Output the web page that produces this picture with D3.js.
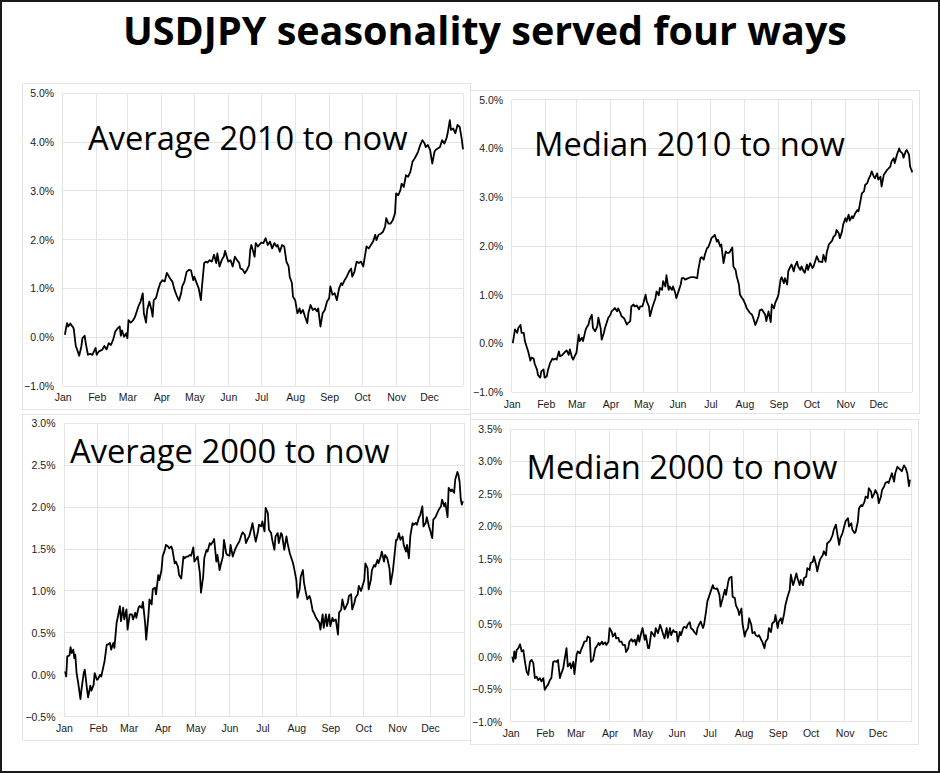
<!DOCTYPE html>
<html lang="en">
<head>
<meta charset="UTF-8">
<title>USDJPY seasonality served four ways</title>
<script src="https://d3js.org/d3.v7.min.js"></script>
<style>
  body { margin: 0; background: #fff; }
  svg { display: block; }
  .tick text { font-family: "Liberation Sans", Arial, sans-serif; font-size: 10.5px; fill: #1a1a1a; }
  .grid line { stroke: #e4e4e4; stroke-width: 1; shape-rendering: crispEdges; }
</style>
</head>
<body>
<script>
const chartTitle = "USDJPY seasonality served four ways";

// y tick values (percent)
const ticks2010 = [-1, 0, 1, 2, 3, 4, 5];
const ticksAvg2000 = [-0.5, 0, 0.5, 1, 1.5, 2, 2.5, 3];
const ticksMed2000 = [-1, -0.5, 0, 0.5, 1, 1.5, 2, 2.5, 3, 3.5];

// [day of year, cumulative % change]
const avg2010 = [[2,0.05],[3,0.18],[4,0.29],[5,0.22],[7,0.28],[8,0.24],[9,0.22],[10,0.18],[12,-0.19],[13,-0.24],[15,-0.38],[17,-0.19],[18,-0.02],[20,0.03],[21,-0.12],[23,-0.36],[25,-0.34],[27,-0.36],[30,-0.22],[31,-0.36],[33,-0.29],[36,-0.26],[38,-0.18],[40,-0.25],[42,-0.12],[44,-0.16],[46,-0.05],[48,0.12],[50,0.18],[52,0.22],[53,0.03],[54,0.14],[56,0.01],[58,0.08],[59,-0.02],[60,0.35],[62,0.30],[64,0.34],[66,0.42],[68,0.56],[69,0.63],[71,0.73],[73,0.90],[74,0.49],[76,0.30],[77,0.56],[79,0.73],[81,0.56],[82,0.42],[83,0.76],[85,0.80],[87,0.97],[89,1.11],[91,1.17],[93,1.14],[95,1.32],[97,1.24],[99,1.17],[100,1.14],[102,0.97],[104,0.85],[106,0.75],[108,0.90],[109,1.04],[111,1.14],[113,1.34],[115,1.38],[117,1.37],[119,1.17],[120,1.24],[122,1.12],[124,1.00],[126,0.76],[127,1.04],[129,1.52],[131,1.55],[132,1.53],[134,1.58],[136,1.55],[138,1.69],[140,1.52],[141,1.72],[143,1.45],[145,1.58],[147,1.66],[148,1.77],[150,1.62],[151,1.55],[153,1.58],[155,1.45],[157,1.65],[159,1.58],[161,1.52],[162,1.41],[164,1.39],[166,1.31],[168,1.38],[170,1.48],[171,1.79],[172,1.89],[175,1.65],[176,1.93],[178,1.86],[181,1.94],[183,1.93],[185,2.03],[187,1.89],[189,1.96],[191,1.82],[193,1.93],[195,1.86],[196,1.89],[198,1.75],[200,1.89],[202,1.86],[204,1.55],[206,1.45],[207,1.24],[209,1.11],[210,0.83],[212,0.76],[214,0.49],[216,0.59],[217,0.49],[219,0.56],[221,0.42],[223,0.29],[224,0.49],[226,0.66],[228,0.56],[230,0.59],[232,0.53],[233,0.59],[235,0.22],[237,0.49],[239,0.56],[241,0.73],[243,0.80],[244,1.04],[246,0.87],[248,0.90],[250,0.76],[252,1.00],[254,1.11],[255,1.07],[257,1.17],[259,1.24],[261,1.34],[263,1.41],[264,1.24],[266,1.34],[268,1.55],[270,1.52],[272,1.55],[274,1.45],[275,1.58],[277,1.86],[279,1.82],[281,1.89],[283,1.96],[285,2.10],[286,1.99],[288,2.10],[290,2.12],[292,2.16],[294,2.27],[295,2.44],[297,2.33],[299,2.33],[301,2.40],[303,2.54],[304,2.95],[306,2.91],[308,3.02],[309,3.15],[311,3.08],[313,3.32],[315,3.29],[317,3.39],[319,3.60],[320,3.63],[322,3.71],[324,3.80],[326,3.94],[328,4.04],[330,3.97],[331,3.90],[333,3.94],[335,3.84],[337,3.56],[339,3.80],[340,3.84],[342,3.87],[344,3.90],[346,4.04],[348,3.97],[350,4.08],[351,4.18],[353,4.45],[354,4.25],[356,4.28],[358,4.18],[360,4.35],[362,4.31],[364,4.04],[365,3.85]];

const med2010 = [[1,0.01],[3,0.29],[5,0.22],[6,0.32],[8,0.38],[9,0.22],[11,0.22],[12,0.05],[14,-0.09],[15,-0.16],[17,-0.35],[18,-0.29],[20,-0.31],[21,-0.42],[23,-0.53],[24,-0.65],[26,-0.70],[27,-0.57],[29,-0.53],[30,-0.70],[32,-0.67],[33,-0.55],[35,-0.40],[37,-0.31],[38,-0.33],[40,-0.31],[41,-0.33],[43,-0.16],[44,-0.26],[46,-0.24],[47,-0.21],[49,-0.16],[50,-0.14],[52,-0.23],[53,-0.12],[55,-0.29],[56,-0.33],[58,-0.23],[59,-0.19],[61,0.18],[62,0.05],[64,0.12],[65,0.05],[67,0.25],[68,0.32],[70,0.39],[71,0.49],[73,0.59],[74,0.32],[76,0.25],[78,0.35],[79,0.53],[81,0.32],[82,0.08],[84,0.22],[85,0.32],[87,0.46],[88,0.53],[90,0.59],[91,0.66],[93,0.70],[94,0.73],[96,0.66],[97,0.72],[99,0.63],[100,0.56],[102,0.53],[103,0.49],[105,0.39],[106,0.42],[108,0.46],[109,0.76],[111,0.80],[112,0.76],[114,0.78],[116,0.70],[117,0.76],[119,0.76],[120,0.83],[122,1.00],[123,0.87],[125,0.76],[126,0.56],[128,0.73],[129,0.80],[131,0.93],[132,1.07],[134,0.99],[135,1.14],[137,1.10],[138,1.28],[140,1.17],[141,1.40],[143,1.10],[144,1.17],[146,1.10],[147,1.17],[149,1.04],[150,0.93],[152,1.07],[154,1.21],[155,1.34],[157,1.34],[158,1.31],[160,1.33],[161,1.34],[163,1.36],[166,1.36],[169,1.34],[170,1.51],[172,1.75],[173,1.77],[175,1.72],[176,1.82],[178,1.96],[179,1.97],[181,2.09],[182,2.16],[184,2.20],[185,2.23],[187,2.09],[188,2.13],[190,1.99],[191,2.03],[193,1.65],[195,1.89],[196,1.86],[198,1.86],[199,1.89],[201,1.97],[202,1.58],[204,1.51],[205,1.38],[207,1.21],[208,1.00],[210,0.93],[211,0.90],[213,0.80],[214,0.73],[216,0.66],[217,0.63],[219,0.59],[220,0.53],[222,0.38],[223,0.44],[225,0.56],[226,0.68],[228,0.70],[229,0.66],[231,0.59],[232,0.46],[234,0.66],[236,0.44],[237,0.80],[239,0.72],[240,0.83],[242,0.93],[243,1.00],[245,1.31],[246,1.36],[248,1.24],[249,1.34],[251,1.21],[252,1.48],[254,1.58],[255,1.62],[257,1.48],[258,1.58],[260,1.68],[261,1.58],[263,1.51],[264,1.58],[266,1.48],[267,1.45],[269,1.62],[270,1.51],[272,1.65],[274,1.55],[275,1.58],[277,1.72],[278,1.79],[280,1.68],[281,1.68],[283,1.67],[284,1.82],[286,1.68],[287,1.86],[289,2.03],[290,2.06],[292,2.11],[293,2.18],[295,2.23],[296,2.33],[298,2.26],[299,2.16],[301,2.30],[302,2.44],[304,2.57],[305,2.50],[307,2.64],[308,2.52],[310,2.61],[311,2.57],[313,2.67],[315,2.74],[316,2.71],[318,2.95],[319,3.08],[321,3.12],[322,3.25],[324,3.29],[325,3.36],[327,3.46],[328,3.53],[330,3.42],[331,3.39],[333,3.49],[334,3.36],[336,3.42],[337,3.22],[339,3.46],[340,3.49],[342,3.56],[343,3.58],[345,3.63],[346,3.73],[348,3.80],[349,3.70],[351,3.87],[353,4.00],[354,3.94],[356,3.90],[357,3.81],[359,3.94],[360,3.97],[362,3.87],[363,3.63],[365,3.51]];

const avg2000 = [[1,0.04],[2,-0.02],[3,0.22],[5,0.23],[6,0.33],[7,0.26],[8.5,0.30],[9.4,0.20],[10.3,0.24],[11.5,0.02],[13,-0.10],[15,-0.29],[16,-0.17],[18,0.02],[19,0.06],[21,-0.17],[22,-0.27],[24,-0.13],[25,-0.19],[27,-0.12],[28,0.02],[30,-0.06],[31,-0.05],[33,0.00],[34,-0.02],[36,0.10],[37,0.16],[39,0.36],[40,0.36],[42,0.38],[43,0.30],[45,0.38],[46,0.32],[48,0.62],[49,0.68],[51,0.82],[52,0.64],[54,0.80],[55,0.66],[57,0.78],[58,0.54],[60,0.72],[62,0.72],[63,0.66],[65,0.74],[66,0.68],[68,0.80],[69,0.82],[71,0.80],[72,0.87],[74,0.62],[75,0.42],[77,0.70],[78,0.90],[80,0.84],[81,1.02],[83,1.04],[84,0.96],[86,1.19],[87,1.13],[89,1.25],[90,1.41],[92,1.49],[93,1.55],[95,1.53],[96,1.51],[98,1.53],[99,1.49],[101,1.33],[102,1.35],[104,1.29],[105,1.19],[107,1.15],[109,1.41],[110,1.39],[112,1.41],[113,1.41],[115,1.43],[116,1.42],[118,1.52],[119,1.35],[121,1.39],[122,1.41],[124,1.21],[125,0.98],[127,1.17],[128,1.39],[130,1.49],[131,1.47],[133,1.57],[134,1.55],[136,1.59],[137,1.62],[139,1.35],[140,1.43],[142,1.25],[143,1.31],[145,1.41],[146,1.61],[148,1.45],[149,1.43],[151,1.42],[152,1.55],[154,1.41],[156,1.49],[157,1.52],[159,1.57],[160,1.59],[162,1.67],[163,1.70],[165,1.67],[166,1.57],[168,1.63],[169,1.65],[171,1.75],[172,1.81],[174,1.65],[175,1.59],[177,1.71],[178,1.79],[180,1.77],[181,1.83],[183,1.71],[184,1.99],[186,1.93],[187,1.73],[189,1.69],[190,1.61],[192,1.49],[193,1.65],[195,1.69],[196,1.57],[198,1.69],[199,1.67],[201,1.49],[203,1.65],[204,1.57],[206,1.45],[207,1.41],[209,1.33],[210,1.27],[212,1.13],[213,0.92],[215,1.02],[216,1.17],[218,1.25],[219,1.10],[221,0.96],[222,0.90],[224,0.94],[225,0.90],[227,0.76],[228,0.74],[230,0.68],[231,0.66],[233,0.62],[234,0.54],[236,0.72],[237,0.56],[239,0.72],[240,0.58],[242,0.72],[243,0.58],[245,0.68],[246,0.64],[248,0.66],[250,0.48],[251,0.74],[253,0.78],[254,0.90],[256,0.78],[257,0.80],[259,0.86],[260,0.94],[262,0.96],[263,0.78],[265,0.86],[266,0.92],[268,0.96],[269,1.06],[271,1.00],[272,1.04],[274,1.13],[275,1.33],[277,1.27],[278,1.02],[280,1.13],[281,1.25],[283,1.31],[284,1.29],[286,1.37],[287,1.33],[289,1.41],[290,1.47],[292,1.35],[293,1.43],[295,1.39],[297,1.27],[298,1.08],[300,1.23],[301,1.35],[303,1.61],[304,1.61],[305.6,1.69],[307,1.61],[309,1.65],[310,1.55],[312,1.47],[313,1.55],[314.7,1.39],[316,1.65],[318,1.81],[319,1.79],[321,1.81],[322,1.79],[324,1.88],[325,1.90],[327,2.01],[328,1.77],[330,1.81],[331,1.88],[333,1.77],[334,1.73],[336,1.63],[337,1.85],[339,1.88],[340,1.91],[342,1.97],[344,2.01],[345,2.09],[347,2.01],[348,2.05],[350,1.88],[351,2.23],[353,2.19],[354,2.21],[356,2.17],[357,2.33],[359,2.42],[360,2.38],[361,2.30],[362,2.10],[363,2.03],[364,2.07]];

const med2000 = [[1.5,0.00],[2.4,-0.08],[3.3,0.08],[4.5,-0.03],[5.4,0.10],[7,0.13],[8.5,0.19],[10,0.08],[11.5,0.10],[13,-0.08],[14.5,-0.23],[16,-0.28],[17.5,-0.08],[19,-0.05],[20.6,-0.10],[22,-0.33],[23.6,-0.31],[25,-0.36],[26.6,-0.33],[28,-0.38],[29.7,-0.33],[31,-0.51],[32.7,-0.46],[34,-0.43],[35.7,-0.36],[37,-0.33],[38.7,-0.08],[40,-0.07],[41.8,-0.08],[43,-0.05],[44.8,-0.33],[46,-0.26],[47.8,-0.18],[49,-0.05],[50.8,0.13],[52,-0.15],[54,-0.10],[55,-0.18],[57,-0.08],[58,-0.27],[60,0.03],[61,0.08],[63,0.05],[64,0.10],[66,0.18],[67,0.23],[69,0.24],[70,0.31],[72,0.29],[73,-0.08],[75,-0.05],[77,0.13],[78,0.15],[80,0.21],[81,0.18],[83,0.23],[84,0.19],[86,0.22],[87,0.18],[89,0.23],[90,0.44],[92,0.38],[93,0.31],[95,0.36],[96,0.28],[98,0.29],[99,0.23],[101,0.23],[102,0.18],[104,0.18],[105,0.07],[107,0.13],[108,0.23],[110,0.27],[111,0.23],[113,0.26],[114,0.18],[116,0.33],[117,0.23],[119,0.38],[120,0.44],[122,0.26],[123,0.33],[125,0.13],[126,0.13],[128,0.38],[129,0.36],[131,0.31],[132,0.44],[134,0.36],[136,0.49],[137,0.44],[139,0.33],[140,0.28],[142,0.44],[143,0.29],[145,0.44],[146,0.33],[148,0.41],[149,0.38],[151,0.38],[152,0.23],[154,0.38],[155,0.33],[157,0.44],[158,0.46],[160,0.44],[161,0.49],[163,0.53],[164,0.44],[166,0.41],[167,0.38],[169,0.34],[170,0.44],[172,0.51],[173,0.54],[175,0.44],[176,0.49],[178,0.72],[179,0.85],[181,0.95],[182,1.00],[184,1.10],[185,1.05],[187,1.04],[188,1.05],[190,0.95],[191,0.77],[193,0.90],[195,1.03],[196,0.95],[198,1.15],[199,1.21],[201,1.23],[202,0.92],[204,0.90],[205,0.79],[207,0.72],[208,0.64],[210,0.74],[211,0.51],[213,0.31],[214,0.38],[216,0.44],[217,0.59],[219,0.49],[220,0.36],[222,0.38],[223,0.33],[225,0.31],[226,0.33],[228,0.26],[229,0.23],[231,0.13],[232,0.23],[234,0.28],[235,0.44],[237,0.38],[238,0.51],[240,0.54],[241,0.64],[243,0.44],[244,0.54],[246,0.59],[247,0.51],[249,0.67],[250,0.79],[252,0.92],[254,1.03],[255,1.26],[257,1.10],[258,1.15],[260,1.28],[261,1.21],[263,1.10],[264,1.18],[266,1.10],[267,1.21],[269,1.23],[270,1.36],[272,1.33],[273,1.44],[275,1.46],[276,1.54],[278,1.41],[279,1.31],[281,1.46],[282,1.51],[284,1.56],[285,1.62],[287,1.56],[288,1.74],[290,1.77],[291,1.79],[293,1.87],[294,1.95],[296,2.03],[297,1.92],[299,1.72],[300,1.82],[302,1.90],[304,2.03],[305,2.09],[307,2.13],[308,2.00],[310,2.05],[311,1.95],[313,1.90],[314,1.92],[316,2.08],[317,2.28],[319,2.33],[320,2.31],[322,2.38],[323,2.46],[325,2.44],[326,2.59],[328,2.54],[329,2.44],[331,2.51],[332,2.56],[334,2.49],[335,2.36],[337,2.46],[338,2.56],[340,2.62],[341,2.67],[343,2.69],[344,2.67],[346,2.77],[347,2.82],[349,2.69],[350,2.82],[352,2.92],[353,2.90],[355,2.87],[356,2.85],[358,2.94],[359.5,2.90],[361,2.82],[362.5,2.62],[363.4,2.72]];

const w = 940;
const h = 773;

const panels = [
  { label: "Average 2010 to now", data: avg2010, ticks: ticks2010,
    frame: [22.5, 83, 470.5, 409.5], plot: [62.7, 93.3, 463, 386], text: [88, 150] },
  { label: "Median 2010 to now", data: med2010, ticks: ticks2010,
    frame: [470.5, 90, 919, 413.5], plot: [511.7, 99.7, 912.3, 392.3], text: [534, 156] },
  { label: "Average 2000 to now", data: avg2000, ticks: ticksAvg2000,
    frame: [22.5, 414, 470.5, 740], plot: [64, 423.3, 464, 716.7], text: [70, 463] },
  { label: "Median 2000 to now", data: med2000, ticks: ticksMed2000,
    frame: [470.5, 419, 918.5, 744.5], plot: [510.7, 429, 911.7, 721.7], text: [526.5, 479] }
];

const yearStart = Date.UTC(2021, 0, 1);
const yearEnd = Date.UTC(2022, 0, 1);
const toDate = d => new Date(yearStart + d * 864e5);
const months = d3.utcMonth.range(new Date(yearStart), new Date(yearEnd));

const svg = d3.select("body")
  .append("svg")
  .attr("width", w)
  .attr("height", h);

svg.append("rect")
  .attr("width", w)
  .attr("height", h)
  .attr("fill", "#fff");

svg.append("text")
  .attr("x", 485)
  .attr("y", 45)
  .attr("text-anchor", "middle")
  .attr("font-family", "'Open Sans', sans-serif")
  .attr("font-weight", 700)
  .attr("font-size", 39.5)
  .attr("fill", "#000")
  .text(chartTitle);

panels.forEach(p => {
  const [fx0, fy0, fx1, fy1] = p.frame;
  const [x0, y0, x1, y1] = p.plot;

  const xScale = d3.scaleUtc()
    .domain([new Date(yearStart), new Date(yearEnd)])
    .range([x0, x1]);

  const yScale = d3.scaleLinear()
    .domain([d3.min(p.ticks), d3.max(p.ticks)])
    .range([y1, y0]);

  const g = svg.append("g");

  g.append("rect")
    .attr("x", fx0)
    .attr("y", fy0)
    .attr("width", fx1 - fx0)
    .attr("height", fy1 - fy0)
    .attr("fill", "none")
    .attr("stroke", "#e4e4e4")
    .attr("shape-rendering", "crispEdges");

  const grid = g.append("g").attr("class", "grid");
  grid.selectAll(".h")
    .data(p.ticks)
    .enter()
    .append("line")
    .attr("x1", x0)
    .attr("x2", x1)
    .attr("y1", d => yScale(d))
    .attr("y2", d => yScale(d));
  grid.selectAll(".v")
    .data(months.concat([new Date(yearEnd)]))
    .enter()
    .append("line")
    .attr("x1", d => xScale(d))
    .attr("x2", d => xScale(d))
    .attr("y1", y0)
    .attr("y2", y1);

  const yAxis = d3.axisLeft(yScale)
    .tickValues(p.ticks)
    .tickFormat(d => d3.format(".1f")(d) + "%")
    .tickSize(0)
    .tickPadding(8.5);
  g.append("g")
    .attr("transform", `translate(${x0},0)`)
    .call(yAxis)
    .call(a => a.select(".domain").remove());

  const xAxis = d3.axisBottom(xScale)
    .tickValues(months)
    .tickFormat(d3.utcFormat("%b"))
    .tickSize(0)
    .tickPadding(8);
  g.append("g")
    .attr("transform", `translate(0,${y1})`)
    .call(xAxis)
    .call(a => a.select(".domain").remove());

  const line = d3.line()
    .x(d => xScale(toDate(d[0])))
    .y(d => yScale(d[1]));

  g.append("path")
    .datum(p.data)
    .attr("d", line)
    .attr("fill", "none")
    .attr("stroke", "#000")
    .attr("stroke-width", 1.8)
    .attr("stroke-linejoin", "round");

  g.append("text")
    .attr("x", p.text[0])
    .attr("y", p.text[1])
    .attr("font-family", "'Open Sans', sans-serif")
    .attr("font-size", 32.7)
    .attr("fill", "#000")
    .text(p.label);
});

svg.append("rect")
  .attr("x", 1)
  .attr("y", 1)
  .attr("width", w - 2)
  .attr("height", h - 2)
  .attr("fill", "none")
  .attr("stroke", "#1a1a1a")
  .attr("stroke-width", 2);
</script>
</body>
</html>
